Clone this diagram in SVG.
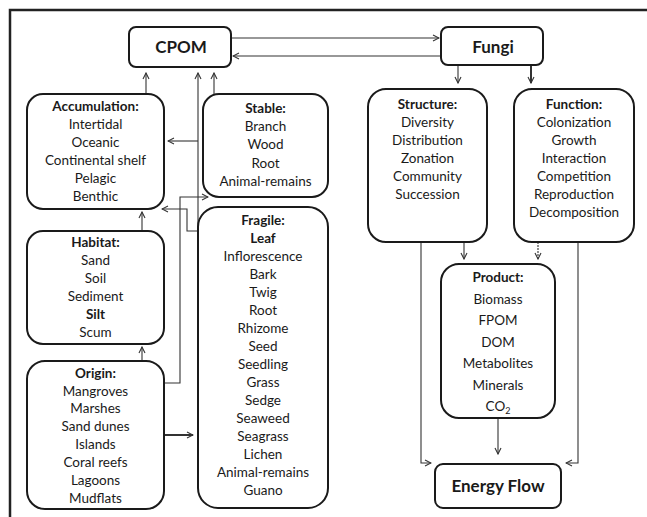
<svg xmlns="http://www.w3.org/2000/svg" width="647" height="517" viewBox="0 0 647 517">
<style>
.box{fill:#fff;stroke:#1a1a1a;stroke-width:2}
.t{font-family:Lato,"Open Sans",sans-serif;font-size:13.5px;fill:#1a1a1a;text-anchor:middle}
.h{font-weight:bold}
.big{font-family:Lato,"Open Sans",sans-serif;font-size:17px;font-weight:bold;fill:#1a1a1a;text-anchor:middle}
.c{fill:none;stroke:#333;stroke-width:1.1}
.thick{stroke-width:2}
.frame{fill:none;stroke:#222;stroke-width:2.5}
</style>
<defs>
<marker id="a" markerWidth="8" markerHeight="8" refX="7" refY="4" orient="auto" markerUnits="userSpaceOnUse">
<path d="M1,1 L7,4 L1,7" fill="none" stroke="#333" stroke-width="1.1"/>
</marker>
</defs>
<rect width="647" height="517" fill="#fff"/>
<path class="frame" d="M10,517 L10,10 L647,10"/>

<g id="connectors">
<path class="c" d="M231,38 L439,38" marker-end="url(#a)"/>
<path class="c" d="M441,56 L233,56" marker-end="url(#a)"/>
<path class="c" d="M146,94 L146,73" marker-end="url(#a)"/>
<path class="c" d="M198,231 L198,73" marker-end="url(#a)"/>
<path class="c" d="M214,94 L214,73" marker-end="url(#a)"/>
<path class="c" d="M198,141 L168,141" marker-end="url(#a)"/>
<path class="c" d="M198,231 L187,231 L187,209 L162,209" marker-end="url(#a)"/>
<path class="c" d="M164,383 L180,383 L180,197 L208,197" marker-end="url(#a)"/>
<path class="c thick" d="M164,435 L193,435" marker-end="url(#a)"/>
<path class="c" d="M142,231 L142,212" marker-end="url(#a)"/>
<path class="c" d="M142,361 L142,347" marker-end="url(#a)"/>
<path class="c" d="M458,65 L458,83" marker-end="url(#a)"/>
<path class="c thick" d="M531,65 L531,83" marker-end="url(#a)"/>
<path class="c" d="M464,242 L464,259" marker-end="url(#a)"/>
<path class="c" d="M538,242 L538,259" stroke-dasharray="2,1" marker-end="url(#a)"/>
<path class="c" d="M421,242 L421,463 L431,463" marker-end="url(#a)"/>
<path class="c" d="M578,242 L578,463 L566,463" marker-end="url(#a)"/>
<path class="c" d="M498,418 L498,454" marker-end="url(#a)"/>
</g>

<g id="cpom">
<rect class="box" x="129" y="27" width="102" height="40" rx="7"/>
<text class="big" x="181" y="53">CPOM</text>
</g>
<g id="fungi">
<rect class="box" x="441" y="27" width="102" height="38" rx="7"/>
<text class="big" x="493" y="53">Fungi</text>
</g>
<g id="accumulation">
<rect class="box" x="27" y="94" width="137" height="115" rx="16"/>
<text class="t h" x="95.5" y="111">Accumulation:</text>
<text class="t" x="95.5" y="129">Intertidal</text>
<text class="t" x="95.5" y="147">Oceanic</text>
<text class="t" x="95.5" y="165">Continental shelf</text>
<text class="t" x="95.5" y="183">Pelagic</text>
<text class="t" x="95.5" y="201">Benthic</text>
</g>
<g id="stable">
<rect class="box" x="203" y="94" width="125" height="103" rx="16"/>
<text class="t h" x="265.5" y="113">Stable:</text>
<text class="t" x="265.5" y="131">Branch</text>
<text class="t" x="265.5" y="149">Wood</text>
<text class="t" x="265.5" y="168">Root</text>
<text class="t" x="265.5" y="186">Animal-remains</text>
</g>
<g id="habitat">
<rect class="box" x="27" y="231" width="137" height="113" rx="16"/>
<text class="t h" x="95.5" y="247">Habitat:</text>
<text class="t" x="95.5" y="265">Sand</text>
<text class="t" x="95.5" y="283">Soil</text>
<text class="t" x="95.5" y="301">Sediment</text>
<text class="t h" x="95.5" y="319">Silt</text>
<text class="t" x="95.5" y="337">Scum</text>
</g>
<g id="fragile">
<rect class="box" x="198" y="207" width="130" height="301" rx="20"/>
<text class="t h" x="263" y="225">Fragile:</text>
<text class="t h" x="263" y="243">Leaf</text>
<text class="t" x="263" y="261">Inflorescence</text>
<text class="t" x="263" y="279">Bark</text>
<text class="t" x="263" y="297">Twig</text>
<text class="t" x="263" y="315">Root</text>
<text class="t" x="263" y="333">Rhizome</text>
<text class="t" x="263" y="351">Seed</text>
<text class="t" x="263" y="369">Seedling</text>
<text class="t" x="263" y="387">Grass</text>
<text class="t" x="263" y="405">Sedge</text>
<text class="t" x="263" y="423">Seaweed</text>
<text class="t" x="263" y="441">Seagrass</text>
<text class="t" x="263" y="459">Lichen</text>
<text class="t" x="263" y="477">Animal-remains</text>
<text class="t" x="263" y="495">Guano</text>
</g>
<g id="origin">
<rect class="box" x="27" y="361" width="137" height="148" rx="18"/>
<text class="t h" x="95.5" y="378">Origin:</text>
<text class="t" x="95.5" y="396">Mangroves</text>
<text class="t" x="95.5" y="413">Marshes</text>
<text class="t" x="95.5" y="431">Sand dunes</text>
<text class="t" x="95.5" y="449">Islands</text>
<text class="t" x="95.5" y="467">Coral reefs</text>
<text class="t" x="95.5" y="485">Lagoons</text>
<text class="t" x="95.5" y="503">Mudflats</text>
</g>
<g id="structure">
<rect class="box" x="368" y="89" width="119" height="153" rx="18"/>
<text class="t h" x="427.5" y="109">Structure:</text>
<text class="t" x="427.5" y="127">Diversity</text>
<text class="t" x="427.5" y="145">Distribution</text>
<text class="t" x="427.5" y="163">Zonation</text>
<text class="t" x="427.5" y="181">Community</text>
<text class="t" x="427.5" y="199">Succession</text>
</g>
<g id="function">
<rect class="box" x="514" y="89" width="120" height="153" rx="18"/>
<text class="t h" x="574" y="109">Function:</text>
<text class="t" x="574" y="127">Colonization</text>
<text class="t" x="574" y="145">Growth</text>
<text class="t" x="574" y="163">Interaction</text>
<text class="t" x="574" y="181">Competition</text>
<text class="t" x="574" y="199">Reproduction</text>
<text class="t" x="574" y="217">Decomposition</text>
</g>
<g id="product">
<rect class="box" x="441" y="264" width="114" height="154" rx="18"/>
<text class="t h" x="498" y="282">Product:</text>
<text class="t" x="498" y="303.5">Biomass</text>
<text class="t" x="498" y="325">FPOM</text>
<text class="t" x="498" y="346.5">DOM</text>
<text class="t" x="498" y="368">Metabolites</text>
<text class="t" x="498" y="389.5">Minerals</text>
<text class="t" x="498" y="411">CO<tspan font-size="9" dy="3">2</tspan></text>
</g>
<g id="energy">
<rect class="box" x="435" y="464" width="126" height="44" rx="8"/>
<text class="big" x="498" y="492">Energy Flow</text>
</g>
</svg>
